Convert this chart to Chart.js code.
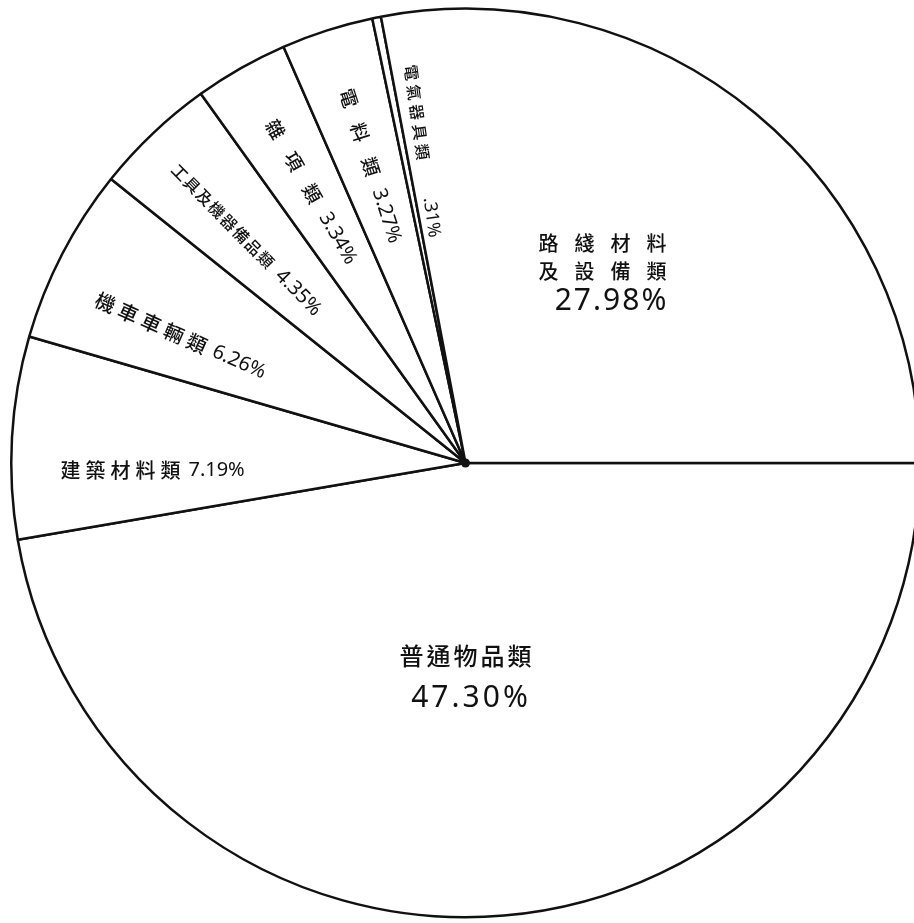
<!DOCTYPE html>
<html><head><meta charset="utf-8">
<script src="https://cdn.jsdelivr.net/npm/chart.js@4"></script>
<style>
html,body{margin:0;padding:0;background:#fff;overflow:hidden;width:914px;height:923px}
#wrap{position:absolute;left:0;top:0;width:921px;height:923px}
</style>
</head><body><div id="wrap"><canvas id="c"></canvas></div>
<script>
// ---- data (clockwise from 3 o'clock) ----
const categories = ['普通物品類','建築材料類','機車車輛類','工具及機器備品類','雜項類','電料類','電氣器具類','路綫材料及設備類'];
const percentages = [47.30, 7.19, 6.26, 4.35, 3.34, 3.27, 0.31, 27.98];
const percentLabels = ['47.30%','7.19%','6.26%','4.35%','3.34%','3.27%','.31%','27.98%'];

// ---- label styling / placement (not data) ----
const CJK = "'Noto Sans CJK TC','Noto Sans CJK SC',sans-serif";
const NUM = "'Noto Sans','DejaVu Sans',sans-serif";
const labelStyles = [
  {mode:'block', lines:[{part:'name', dx:0, dy:193, size:24, gap:3},{part:'pct', dx:4, dy:235, size:30, gap:3}]},
  {mode:'radial', r:313, angle:178.6, tilt:0, nameSize:20, nameGap:5, sep:8, pctSize:20},
  {mode:'radial', r:312, angle:204, nameSize:20, nameGap:5, sep:8, pctSize:20},
  {mode:'radial', r:313, angle:225.5, nameSize:16, nameGap:1.5, sep:10, pctSize:20},
  {mode:'radial', r:312, nameSize:19, nameGap:18, sep:14, pctSize:20},
  {mode:'radial', r:312, nameSize:19, nameGap:17, sep:14, pctSize:20},
  {mode:'radial', r:315, angleOffset:3.4, nameSize:16, nameGap:4, sep:38, pctSize:18},
  {mode:'block', lines:[{part:'name', from:0, to:4, dx:137, dy:-220, size:20, gap:16},
                        {part:'name', from:4, to:8, dx:137, dy:-192, size:20, gap:16},
                        {part:'pct', dx:145, dy:-162, size:30, gap:2}]}
];

function runWidth(ctx, text, gap){
  let w = 0; const chars = Array.from(text);
  chars.forEach((ch,i)=>{ w += ctx.measureText(ch).width + (i<chars.length-1?gap:0); });
  return w;
}
function drawRun(ctx, text, x, gap){
  const chars = Array.from(text);
  chars.forEach(ch=>{ ctx.fillText(ch, x, 0); x += ctx.measureText(ch).width + gap; });
  return x;
}

const labelPlugin = {
  id:'sliceLabels',
  afterDatasetsDraw(chart){
    const ctx = chart.ctx;
    const meta = chart.getDatasetMeta(0);
    const arcs = meta.data;
    if(!arcs.length) return;
    const cx = arcs[0].x, cy = arcs[0].y;
    ctx.save();
    ctx.fillStyle = '#111';
    ctx.textBaseline = 'middle';
    ctx.textAlign = 'left';
    arcs.forEach((arc,i)=>{
      const st = labelStyles[i];
      const name = categories[i], pct = percentLabels[i];
      if(st.mode==='block'){
        st.lines.forEach(ln=>{
          let txt = ln.part==='name' ? Array.from(name).slice(ln.from||0, ln.to||undefined).join('') : pct;
          ctx.font = (ln.part==='name'?'500 ':'')+ln.size+'px '+(ln.part==='name'?CJK:NUM);
          const w = runWidth(ctx, txt, ln.gap);
          ctx.save();
          ctx.translate(cx+ln.dx, cy+ln.dy);
          drawRun(ctx, txt, -w/2, ln.gap);
          ctx.restore();
        });
      } else {
        let mid = (st.angle!=null) ? st.angle*Math.PI/180 : (arc.startAngle+arc.endAngle)/2;
        if(st.angleOffset) mid += st.angleOffset*Math.PI/180;
        const tilt = (st.tilt!=null) ? st.tilt*Math.PI/180 : mid+Math.PI;
        ctx.font = '500 '+st.nameSize+'px '+CJK;
        const w1 = runWidth(ctx, name, st.nameGap);
        ctx.font = st.pctSize+'px '+NUM;
        const w2 = runWidth(ctx, pct, 0);
        const total = w1+st.sep+w2;
        ctx.save();
        ctx.translate(cx+st.r*Math.cos(mid), cy+st.r*Math.sin(mid));
        ctx.rotate(tilt);
        ctx.font = '500 '+st.nameSize+'px '+CJK;
        let x = drawRun(ctx, name, -total/2, st.nameGap);
        x = x - st.nameGap + st.sep;
        ctx.font = st.pctSize+'px '+NUM;
        drawRun(ctx, pct, x, 0);
        ctx.restore();
      }
    });
    // center dot
    ctx.beginPath();
    ctx.arc(cx, cy, 4.5, 0, Math.PI*2);
    ctx.fill();
    ctx.restore();
  }
};

new Chart(document.getElementById('c'), {
  type:'pie',
  data:{
    labels: categories,
    datasets:[{
      data: percentages,
      backgroundColor:'#ffffff',
      borderColor:'#111111',
      borderWidth:2.5
    }]
  },
  options:{
    responsive:true,
    maintainAspectRatio:false,
    animation:false,
    events:[],
    rotation:90,
    layout:{padding:{left:10, top:7, right:0, bottom:4}},
    plugins:{legend:{display:false}, tooltip:{enabled:false}}
  },
  plugins:[labelPlugin]
});
</script>
</body></html>
